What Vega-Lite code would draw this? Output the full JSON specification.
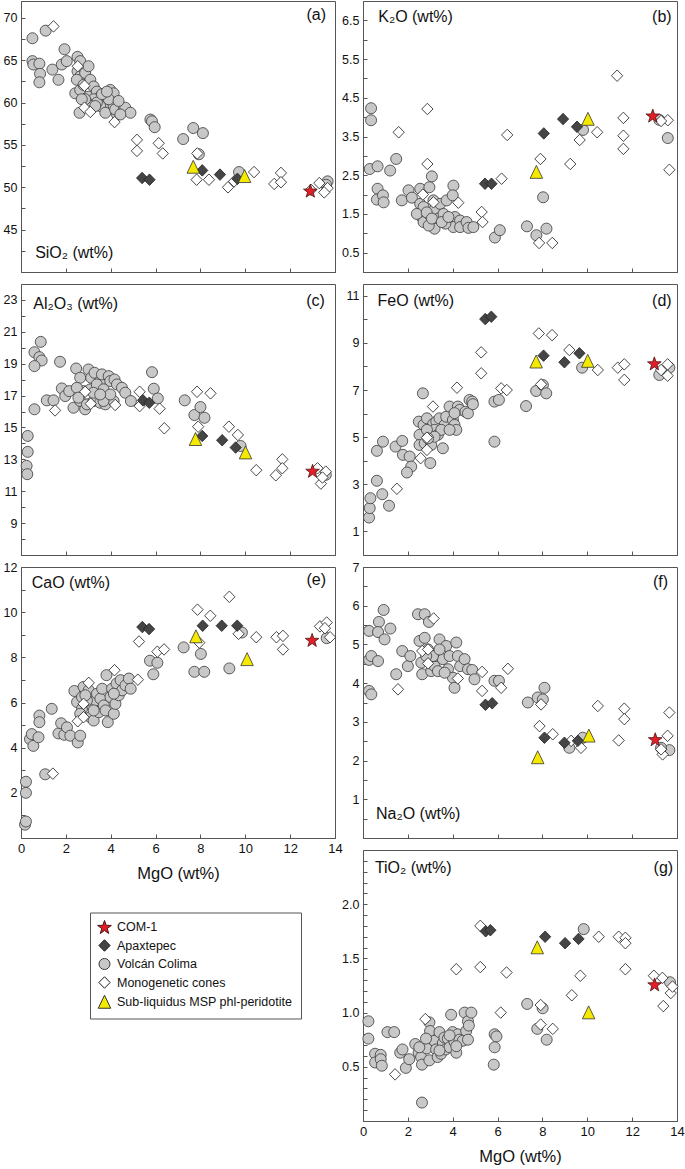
{
"$schema":"https://vega.github.io/schema/vega-lite/v6.json",
"padding":{"left":2,"top":0,"right":0,"bottom":0},
"background":"white",
"data":{"values":[
{"p":"a","g":"3","x":0.51,"y":67.6},{"p":"a","g":"3","x":1.10,"y":68.5},{"p":"a","g":"3","x":0.51,"y":64.9},{"p":"a","g":"3","x":0.55,"y":64.5},{"p":"a","g":"3","x":0.82,"y":64.6},{"p":"a","g":"3","x":0.85,"y":63.4},{"p":"a","g":"3","x":0.82,"y":62.4},{"p":"a","g":"3","x":1.40,"y":63.9},{"p":"a","g":"3","x":1.67,"y":62.7},{"p":"a","g":"3","x":1.82,"y":64.5},{"p":"a","g":"3","x":1.94,"y":66.3},{"p":"a","g":"3","x":2.04,"y":64.9},{"p":"a","g":"3","x":2.52,"y":65.4},{"p":"a","g":"3","x":2.64,"y":64.9},{"p":"a","g":"3","x":2.52,"y":63.7},{"p":"a","g":"3","x":2.64,"y":63.1},{"p":"a","g":"3","x":2.86,"y":63.5},{"p":"a","g":"3","x":3.01,"y":64.3},{"p":"a","g":"3","x":2.49,"y":62.7},{"p":"a","g":"3","x":2.42,"y":61.1},{"p":"a","g":"3","x":2.64,"y":61.5},{"p":"a","g":"3","x":2.79,"y":62.1},{"p":"a","g":"3","x":3.09,"y":62.7},{"p":"a","g":"3","x":3.01,"y":60.7},{"p":"a","g":"3","x":3.24,"y":61.9},{"p":"a","g":"3","x":3.38,"y":61.3},{"p":"a","g":"3","x":3.53,"y":60.7},{"p":"a","g":"3","x":3.24,"y":60.4},{"p":"a","g":"3","x":2.61,"y":58.8},{"p":"a","g":"3","x":2.94,"y":60.0},{"p":"a","g":"3","x":3.68,"y":60.4},{"p":"a","g":"3","x":3.83,"y":59.8},{"p":"a","g":"3","x":3.53,"y":59.6},{"p":"a","g":"3","x":3.76,"y":58.8},{"p":"a","g":"3","x":3.98,"y":61.5},{"p":"a","g":"3","x":4.06,"y":60.6},{"p":"a","g":"3","x":4.13,"y":61.1},{"p":"a","g":"3","x":4.20,"y":60.0},{"p":"a","g":"3","x":4.13,"y":59.6},{"p":"a","g":"3","x":4.28,"y":58.6},{"p":"a","g":"3","x":4.20,"y":59.2},{"p":"a","g":"3","x":4.58,"y":59.2},{"p":"a","g":"3","x":4.65,"y":59.4},{"p":"a","g":"3","x":4.88,"y":58.8},{"p":"a","g":"3","x":3.38,"y":60.0},{"p":"a","g":"3","x":3.09,"y":59.6},{"p":"a","g":"3","x":2.86,"y":60.4},{"p":"a","g":"3","x":3.31,"y":59.6},{"p":"a","g":"3","x":3.91,"y":60.4},{"p":"a","g":"3","x":2.71,"y":60.4},{"p":"a","g":"3","x":3.61,"y":61.0},{"p":"a","g":"3","x":3.83,"y":61.3},{"p":"a","g":"3","x":4.35,"y":60.2},{"p":"a","g":"3","x":4.43,"y":58.6},{"p":"a","g":"3","x":5.77,"y":58.0},{"p":"a","g":"3","x":5.84,"y":57.8},{"p":"a","g":"3","x":5.96,"y":57.1},{"p":"a","g":"3","x":7.23,"y":55.7},{"p":"a","g":"3","x":7.68,"y":57.0},{"p":"a","g":"3","x":8.11,"y":56.4},{"p":"a","g":"3","x":7.93,"y":53.9},{"p":"a","g":"3","x":9.72,"y":51.8},{"p":"a","g":"3","x":13.67,"y":50.7},{"p":"a","g":"3","x":13.6,"y":50.3},
{"p":"b","g":"3","x":0.36,"y":4.23},{"p":"b","g":"3","x":0.36,"y":3.92},{"p":"b","g":"3","x":0.30,"y":2.66},{"p":"b","g":"3","x":0.65,"y":2.73},{"p":"b","g":"3","x":1.21,"y":2.62},{"p":"b","g":"3","x":1.48,"y":2.92},{"p":"b","g":"3","x":0.65,"y":2.15},{"p":"b","g":"3","x":0.62,"y":1.87},{"p":"b","g":"3","x":0.89,"y":1.98},{"p":"b","g":"3","x":0.92,"y":1.80},{"p":"b","g":"3","x":1.73,"y":1.85},{"p":"b","g":"3","x":2.03,"y":2.11},{"p":"b","g":"3","x":2.18,"y":1.92},{"p":"b","g":"3","x":2.55,"y":2.15},{"p":"b","g":"3","x":2.96,"y":2.19},{"p":"b","g":"3","x":3.07,"y":2.47},{"p":"b","g":"3","x":2.55,"y":1.76},{"p":"b","g":"3","x":2.70,"y":1.68},{"p":"b","g":"3","x":2.62,"y":1.42},{"p":"b","g":"3","x":2.70,"y":1.29},{"p":"b","g":"3","x":2.93,"y":1.50},{"p":"b","g":"3","x":3.14,"y":1.85},{"p":"b","g":"3","x":3.21,"y":1.63},{"p":"b","g":"3","x":3.36,"y":1.38},{"p":"b","g":"3","x":3.19,"y":1.12},{"p":"b","g":"3","x":3.44,"y":1.76},{"p":"b","g":"3","x":3.59,"y":1.50},{"p":"b","g":"3","x":3.73,"y":1.85},{"p":"b","g":"3","x":4.03,"y":2.23},{"p":"b","g":"3","x":4.0,"y":1.98},{"p":"b","g":"3","x":4.10,"y":1.42},{"p":"b","g":"3","x":4.03,"y":1.16},{"p":"b","g":"3","x":4.33,"y":1.33},{"p":"b","g":"3","x":4.33,"y":1.16},{"p":"b","g":"3","x":4.62,"y":1.29},{"p":"b","g":"3","x":4.70,"y":1.14},{"p":"b","g":"3","x":4.92,"y":1.16},{"p":"b","g":"3","x":3.67,"y":1.25},{"p":"b","g":"3","x":2.93,"y":1.20},{"p":"b","g":"3","x":2.40,"y":1.50},{"p":"b","g":"3","x":2.84,"y":1.54},{"p":"b","g":"3","x":3.07,"y":1.38},{"p":"b","g":"3","x":3.51,"y":1.29},{"p":"b","g":"3","x":3.81,"y":1.42},{"p":"b","g":"3","x":5.88,"y":0.89},{"p":"b","g":"3","x":6.1,"y":1.08},{"p":"b","g":"3","x":7.31,"y":1.18},{"p":"b","g":"3","x":7.73,"y":0.95},{"p":"b","g":"3","x":8.18,"y":1.12},{"p":"b","g":"3","x":8.03,"y":1.93},{"p":"b","g":"3","x":9.81,"y":3.67},{"p":"b","g":"3","x":13.59,"y":3.46},{"p":"b","g":"3","x":13.21,"y":3.93},
{"p":"c","g":"3","x":0.3,"y":14.47},{"p":"c","g":"3","x":0.3,"y":13.47},{"p":"c","g":"3","x":0.25,"y":12.59},{"p":"c","g":"3","x":0.28,"y":12.07},{"p":"c","g":"3","x":0.6,"y":19.72},{"p":"c","g":"3","x":0.88,"y":20.37},{"p":"c","g":"3","x":0.82,"y":19.41},{"p":"c","g":"3","x":0.92,"y":19.2},{"p":"c","g":"3","x":0.6,"y":18.85},{"p":"c","g":"3","x":0.6,"y":16.14},{"p":"c","g":"3","x":1.15,"y":16.7},{"p":"c","g":"3","x":1.45,"y":16.7},{"p":"c","g":"3","x":1.74,"y":19.12},{"p":"c","g":"3","x":1.82,"y":17.45},{"p":"c","g":"3","x":1.97,"y":16.97},{"p":"c","g":"3","x":2.15,"y":17.28},{"p":"c","g":"3","x":2.46,"y":18.70},{"p":"c","g":"3","x":2.64,"y":18.12},{"p":"c","g":"3","x":3.01,"y":18.64},{"p":"c","g":"3","x":3.13,"y":18.12},{"p":"c","g":"3","x":3.28,"y":18.43},{"p":"c","g":"3","x":3.53,"y":17.91},{"p":"c","g":"3","x":3.61,"y":18.33},{"p":"c","g":"3","x":3.91,"y":18.22},{"p":"c","g":"3","x":3.98,"y":17.91},{"p":"c","g":"3","x":4.17,"y":18.01},{"p":"c","g":"3","x":4.28,"y":17.70},{"p":"c","g":"3","x":4.50,"y":17.49},{"p":"c","g":"3","x":4.65,"y":17.18},{"p":"c","g":"3","x":4.90,"y":16.66},{"p":"c","g":"3","x":2.34,"y":16.24},{"p":"c","g":"3","x":2.64,"y":16.66},{"p":"c","g":"3","x":2.86,"y":16.14},{"p":"c","g":"3","x":2.94,"y":16.45},{"p":"c","g":"3","x":3.23,"y":16.66},{"p":"c","g":"3","x":3.53,"y":16.55},{"p":"c","g":"3","x":3.76,"y":16.45},{"p":"c","g":"3","x":4.13,"y":16.66},{"p":"c","g":"3","x":3.68,"y":16.66},{"p":"c","g":"3","x":2.79,"y":17.28},{"p":"c","g":"3","x":3.09,"y":17.39},{"p":"c","g":"3","x":3.38,"y":17.70},{"p":"c","g":"3","x":3.68,"y":17.39},{"p":"c","g":"3","x":3.98,"y":17.07},{"p":"c","g":"3","x":3.23,"y":17.18},{"p":"c","g":"3","x":3.53,"y":17.07},{"p":"c","g":"3","x":2.49,"y":17.49},{"p":"c","g":"3","x":2.56,"y":16.87},{"p":"c","g":"3","x":5.84,"y":18.47},{"p":"c","g":"3","x":5.92,"y":17.43},{"p":"c","g":"3","x":6.10,"y":16.82},{"p":"c","g":"3","x":7.30,"y":16.70},{"p":"c","g":"3","x":7.73,"y":15.78},{"p":"c","g":"3","x":8.0,"y":16.28},{"p":"c","g":"3","x":8.18,"y":15.61},{"p":"c","g":"3","x":9.79,"y":13.84},{"p":"c","g":"3","x":13.59,"y":12.03},
{"p":"d","g":"3","x":0.27,"y":1.59},{"p":"d","g":"3","x":0.30,"y":1.99},{"p":"d","g":"3","x":0.33,"y":2.41},{"p":"d","g":"3","x":0.62,"y":3.15},{"p":"d","g":"3","x":0.86,"y":2.58},{"p":"d","g":"3","x":1.16,"y":2.09},{"p":"d","g":"3","x":0.62,"y":4.42},{"p":"d","g":"3","x":0.89,"y":4.81},{"p":"d","g":"3","x":1.45,"y":4.60},{"p":"d","g":"3","x":1.75,"y":4.84},{"p":"d","g":"3","x":1.78,"y":4.25},{"p":"d","g":"3","x":2.08,"y":4.18},{"p":"d","g":"3","x":2.15,"y":3.75},{"p":"d","g":"3","x":1.96,"y":3.50},{"p":"d","g":"3","x":2.67,"y":6.86},{"p":"d","g":"3","x":2.49,"y":5.66},{"p":"d","g":"3","x":2.70,"y":5.52},{"p":"d","g":"3","x":2.52,"y":5.10},{"p":"d","g":"3","x":2.52,"y":4.67},{"p":"d","g":"3","x":2.75,"y":4.74},{"p":"d","g":"3","x":2.85,"y":5.80},{"p":"d","g":"3","x":2.97,"y":5.24},{"p":"d","g":"3","x":3.04,"y":4.67},{"p":"d","g":"3","x":3.0,"y":3.90},{"p":"d","g":"3","x":3.12,"y":5.55},{"p":"d","g":"3","x":3.27,"y":5.66},{"p":"d","g":"3","x":3.19,"y":5.31},{"p":"d","g":"3","x":3.41,"y":5.80},{"p":"d","g":"3","x":3.34,"y":5.10},{"p":"d","g":"3","x":3.56,"y":4.53},{"p":"d","g":"3","x":3.64,"y":5.52},{"p":"d","g":"3","x":3.49,"y":5.31},{"p":"d","g":"3","x":3.71,"y":5.87},{"p":"d","g":"3","x":3.86,"y":6.30},{"p":"d","g":"3","x":4.01,"y":5.73},{"p":"d","g":"3","x":4.08,"y":5.52},{"p":"d","g":"3","x":4.16,"y":5.31},{"p":"d","g":"3","x":3.86,"y":5.31},{"p":"d","g":"3","x":4.23,"y":6.30},{"p":"d","g":"3","x":4.31,"y":6.16},{"p":"d","g":"3","x":4.08,"y":6.02},{"p":"d","g":"3","x":4.57,"y":6.08},{"p":"d","g":"3","x":4.68,"y":6.01},{"p":"d","g":"3","x":4.75,"y":6.58},{"p":"d","g":"3","x":4.87,"y":6.51},{"p":"d","g":"3","x":4.90,"y":6.40},{"p":"d","g":"3","x":2.85,"y":5.31},{"p":"d","g":"3","x":3.19,"y":5.02},{"p":"d","g":"3","x":2.9,"y":4.95},{"p":"d","g":"3","x":5.86,"y":6.51},{"p":"d","g":"3","x":6.06,"y":6.58},{"p":"d","g":"3","x":5.86,"y":4.81},{"p":"d","g":"3","x":7.27,"y":6.32},{"p":"d","g":"3","x":7.72,"y":6.96},{"p":"d","g":"3","x":8.02,"y":7.21},{"p":"d","g":"3","x":8.17,"y":6.86},{"p":"d","g":"3","x":9.77,"y":7.95},{"p":"d","g":"3","x":13.66,"y":7.95},{"p":"d","g":"3","x":13.21,"y":7.64},
{"p":"e","g":"3","x":0.18,"y":0.59},{"p":"e","g":"3","x":0.22,"y":0.73},{"p":"e","g":"3","x":0.22,"y":2.0},{"p":"e","g":"3","x":0.22,"y":2.49},{"p":"e","g":"3","x":0.40,"y":4.38},{"p":"e","g":"3","x":0.48,"y":4.60},{"p":"e","g":"3","x":0.55,"y":4.08},{"p":"e","g":"3","x":0.78,"y":4.46},{"p":"e","g":"3","x":0.82,"y":5.42},{"p":"e","g":"3","x":0.82,"y":5.13},{"p":"e","g":"3","x":1.08,"y":2.82},{"p":"e","g":"3","x":1.37,"y":5.72},{"p":"e","g":"3","x":1.67,"y":4.63},{"p":"e","g":"3","x":1.79,"y":5.08},{"p":"e","g":"3","x":1.93,"y":4.57},{"p":"e","g":"3","x":2.05,"y":4.90},{"p":"e","g":"3","x":2.20,"y":4.53},{"p":"e","g":"3","x":2.38,"y":6.51},{"p":"e","g":"3","x":2.50,"y":6.02},{"p":"e","g":"3","x":2.53,"y":4.23},{"p":"e","g":"3","x":2.64,"y":4.53},{"p":"e","g":"3","x":2.72,"y":5.72},{"p":"e","g":"3","x":2.79,"y":6.69},{"p":"e","g":"3","x":2.72,"y":6.24},{"p":"e","g":"3","x":3.02,"y":6.54},{"p":"e","g":"3","x":3.09,"y":5.35},{"p":"e","g":"3","x":3.17,"y":5.87},{"p":"e","g":"3","x":3.24,"y":5.20},{"p":"e","g":"3","x":3.32,"y":6.09},{"p":"e","g":"3","x":3.39,"y":6.39},{"p":"e","g":"3","x":3.47,"y":5.57},{"p":"e","g":"3","x":3.54,"y":6.17},{"p":"e","g":"3","x":3.62,"y":6.61},{"p":"e","g":"3","x":3.69,"y":5.87},{"p":"e","g":"3","x":3.77,"y":5.65},{"p":"e","g":"3","x":3.81,"y":7.21},{"p":"e","g":"3","x":3.87,"y":5.13},{"p":"e","g":"3","x":3.99,"y":6.24},{"p":"e","g":"3","x":4.06,"y":6.61},{"p":"e","g":"3","x":4.14,"y":5.50},{"p":"e","g":"3","x":4.26,"y":6.84},{"p":"e","g":"3","x":4.21,"y":5.94},{"p":"e","g":"3","x":4.36,"y":6.32},{"p":"e","g":"3","x":4.44,"y":6.99},{"p":"e","g":"3","x":4.51,"y":6.54},{"p":"e","g":"3","x":4.66,"y":6.76},{"p":"e","g":"3","x":4.81,"y":7.06},{"p":"e","g":"3","x":4.89,"y":6.61},{"p":"e","g":"3","x":4.14,"y":6.39},{"p":"e","g":"3","x":2.94,"y":6.09},{"p":"e","g":"3","x":3.24,"y":5.65},{"p":"e","g":"3","x":2.64,"y":5.50},{"p":"e","g":"3","x":2.87,"y":6.32},{"p":"e","g":"3","x":5.75,"y":7.85},{"p":"e","g":"3","x":5.90,"y":7.25},{"p":"e","g":"3","x":6.08,"y":7.76},{"p":"e","g":"3","x":7.25,"y":8.44},{"p":"e","g":"3","x":7.73,"y":7.36},{"p":"e","g":"3","x":8.02,"y":8.15},{"p":"e","g":"3","x":8.17,"y":7.36},{"p":"e","g":"3","x":9.29,"y":7.51},{"p":"e","g":"3","x":9.85,"y":9.10},{"p":"e","g":"3","x":13.63,"y":8.85},
{"p":"f","g":"3","x":0.27,"y":5.35},{"p":"f","g":"3","x":0.27,"y":4.60},{"p":"f","g":"3","x":0.37,"y":4.70},{"p":"f","g":"3","x":0.27,"y":3.80},{"p":"f","g":"3","x":0.37,"y":3.71},{"p":"f","g":"3","x":0.67,"y":4.57},{"p":"f","g":"3","x":0.71,"y":5.58},{"p":"f","g":"3","x":0.67,"y":5.32},{"p":"f","g":"3","x":0.92,"y":5.89},{"p":"f","g":"3","x":0.96,"y":5.13},{"p":"f","g":"3","x":1.22,"y":5.41},{"p":"f","g":"3","x":1.48,"y":4.23},{"p":"f","g":"3","x":1.75,"y":4.83},{"p":"f","g":"3","x":2.0,"y":4.44},{"p":"f","g":"3","x":2.11,"y":4.70},{"p":"f","g":"3","x":2.45,"y":5.78},{"p":"f","g":"3","x":2.75,"y":5.78},{"p":"f","g":"3","x":2.94,"y":5.58},{"p":"f","g":"3","x":2.52,"y":5.09},{"p":"f","g":"3","x":2.60,"y":4.53},{"p":"f","g":"3","x":2.64,"y":4.23},{"p":"f","g":"3","x":2.75,"y":5.17},{"p":"f","g":"3","x":2.90,"y":4.87},{"p":"f","g":"3","x":3.04,"y":4.31},{"p":"f","g":"3","x":3.19,"y":4.44},{"p":"f","g":"3","x":3.27,"y":4.70},{"p":"f","g":"3","x":3.34,"y":4.31},{"p":"f","g":"3","x":3.41,"y":5.13},{"p":"f","g":"3","x":3.56,"y":4.62},{"p":"f","g":"3","x":3.71,"y":4.96},{"p":"f","g":"3","x":3.86,"y":4.70},{"p":"f","g":"3","x":3.79,"y":4.36},{"p":"f","g":"3","x":4.01,"y":4.14},{"p":"f","g":"3","x":4.08,"y":3.88},{"p":"f","g":"3","x":4.16,"y":5.05},{"p":"f","g":"3","x":4.23,"y":4.70},{"p":"f","g":"3","x":4.33,"y":4.44},{"p":"f","g":"3","x":4.53,"y":4.62},{"p":"f","g":"3","x":4.68,"y":4.36},{"p":"f","g":"3","x":4.87,"y":4.34},{"p":"f","g":"3","x":4.97,"y":4.10},{"p":"f","g":"3","x":3.12,"y":4.70},{"p":"f","g":"3","x":3.41,"y":4.87},{"p":"f","g":"3","x":2.82,"y":4.70},{"p":"f","g":"3","x":3.64,"y":4.27},{"p":"f","g":"3","x":5.86,"y":4.06},{"p":"f","g":"3","x":6.06,"y":4.06},{"p":"f","g":"3","x":7.35,"y":3.50},{"p":"f","g":"3","x":7.79,"y":3.63},{"p":"f","g":"3","x":8.09,"y":3.88},{"p":"f","g":"3","x":8.02,"y":3.58},{"p":"f","g":"3","x":9.20,"y":2.33},{"p":"f","g":"3","x":9.80,"y":2.59},{"p":"f","g":"3","x":13.66,"y":2.27},{"p":"f","g":"3","x":13.29,"y":2.33},
{"p":"g","g":"3","x":0.24,"y":0.92},{"p":"g","g":"3","x":0.24,"y":0.76},{"p":"g","g":"3","x":0.54,"y":0.62},{"p":"g","g":"3","x":0.54,"y":0.54},{"p":"g","g":"3","x":0.79,"y":0.61},{"p":"g","g":"3","x":0.79,"y":0.57},{"p":"g","g":"3","x":0.84,"y":0.51},{"p":"g","g":"3","x":1.09,"y":0.82},{"p":"g","g":"3","x":1.39,"y":0.82},{"p":"g","g":"3","x":1.66,"y":0.63},{"p":"g","g":"3","x":1.76,"y":0.66},{"p":"g","g":"3","x":1.91,"y":0.49},{"p":"g","g":"3","x":2.06,"y":0.57},{"p":"g","g":"3","x":2.33,"y":0.71},{"p":"g","g":"3","x":2.48,"y":0.63},{"p":"g","g":"3","x":2.59,"y":0.59},{"p":"g","g":"3","x":2.63,"y":0.52},{"p":"g","g":"3","x":2.63,"y":0.17},{"p":"g","g":"3","x":2.84,"y":0.67},{"p":"g","g":"3","x":2.96,"y":0.91},{"p":"g","g":"3","x":2.99,"y":0.83},{"p":"g","g":"3","x":2.96,"y":0.56},{"p":"g","g":"3","x":3.18,"y":0.74},{"p":"g","g":"3","x":3.26,"y":0.66},{"p":"g","g":"3","x":3.33,"y":0.59},{"p":"g","g":"3","x":3.41,"y":0.82},{"p":"g","g":"3","x":3.48,"y":0.62},{"p":"g","g":"3","x":3.56,"y":0.72},{"p":"g","g":"3","x":3.63,"y":0.77},{"p":"g","g":"3","x":3.68,"y":0.66},{"p":"g","g":"3","x":3.78,"y":0.76},{"p":"g","g":"3","x":3.86,"y":0.68},{"p":"g","g":"3","x":3.93,"y":0.98},{"p":"g","g":"3","x":4.0,"y":0.82},{"p":"g","g":"3","x":4.08,"y":0.73},{"p":"g","g":"3","x":4.16,"y":0.63},{"p":"g","g":"3","x":4.23,"y":0.80},{"p":"g","g":"3","x":4.30,"y":0.75},{"p":"g","g":"3","x":4.45,"y":0.74},{"p":"g","g":"3","x":4.53,"y":1.0},{"p":"g","g":"3","x":4.60,"y":0.83},{"p":"g","g":"3","x":4.68,"y":0.92},{"p":"g","g":"3","x":4.83,"y":1.0},{"p":"g","g":"3","x":4.72,"y":0.88},{"p":"g","g":"3","x":4.68,"y":0.75},{"p":"g","g":"3","x":2.51,"y":0.68},{"p":"g","g":"3","x":2.81,"y":0.76},{"p":"g","g":"3","x":3.41,"y":0.65},{"p":"g","g":"3","x":3.86,"y":0.79},{"p":"g","g":"3","x":4.16,"y":0.69},{"p":"g","g":"3","x":5.87,"y":0.80},{"p":"g","g":"3","x":5.95,"y":0.78},{"p":"g","g":"3","x":5.87,"y":0.68},{"p":"g","g":"3","x":5.83,"y":0.52},{"p":"g","g":"3","x":7.32,"y":1.08},{"p":"g","g":"3","x":7.77,"y":0.85},{"p":"g","g":"3","x":8.01,"y":1.04},{"p":"g","g":"3","x":8.19,"y":0.75},{"p":"g","g":"3","x":9.84,"y":1.77},{"p":"g","g":"3","x":13.69,"y":1.28},
{"p":"a","g":"4","x":1.45,"y":69.0},{"p":"a","g":"4","x":2.53,"y":64.3},{"p":"a","g":"4","x":2.83,"y":62.0},{"p":"a","g":"4","x":2.83,"y":59.4},{"p":"a","g":"4","x":3.09,"y":58.9},{"p":"a","g":"4","x":4.17,"y":57.7},{"p":"a","g":"4","x":5.17,"y":55.6},{"p":"a","g":"4","x":5.17,"y":54.3},{"p":"a","g":"4","x":6.14,"y":55.2},{"p":"a","g":"4","x":6.32,"y":54.0},{"p":"a","g":"4","x":7.86,"y":54.0},{"p":"a","g":"4","x":7.83,"y":50.9},{"p":"a","g":"4","x":8.38,"y":50.9},{"p":"a","g":"4","x":9.23,"y":50.0},{"p":"a","g":"4","x":9.5,"y":50.7},{"p":"a","g":"4","x":10.39,"y":51.8},{"p":"a","g":"4","x":11.29,"y":50.4},{"p":"a","g":"4","x":11.59,"y":51.7},{"p":"a","g":"4","x":11.59,"y":50.6},{"p":"a","g":"4","x":13.3,"y":50.5},{"p":"a","g":"4","x":13.67,"y":49.9},{"p":"a","g":"4","x":13.52,"y":49.4},{"p":"a","g":"4","x":12.93,"y":49.7},
{"p":"b","g":"4","x":1.59,"y":3.61},{"p":"b","g":"4","x":2.87,"y":4.21},{"p":"b","g":"4","x":2.87,"y":2.79},{"p":"b","g":"4","x":2.67,"y":2.0},{"p":"b","g":"4","x":3.14,"y":1.80},{"p":"b","g":"4","x":4.25,"y":1.79},{"p":"b","g":"4","x":5.29,"y":1.55},{"p":"b","g":"4","x":5.33,"y":1.29},{"p":"b","g":"4","x":6.18,"y":2.41},{"p":"b","g":"4","x":6.43,"y":3.54},{"p":"b","g":"4","x":7.91,"y":2.92},{"p":"b","g":"4","x":7.85,"y":0.75},{"p":"b","g":"4","x":8.44,"y":0.75},{"p":"b","g":"4","x":9.24,"y":2.79},{"p":"b","g":"4","x":9.66,"y":3.41},{"p":"b","g":"4","x":10.44,"y":3.61},{"p":"b","g":"4","x":11.33,"y":5.07},{"p":"b","g":"4","x":11.61,"y":3.98},{"p":"b","g":"4","x":11.61,"y":3.52},{"p":"b","g":"4","x":11.61,"y":3.18},{"p":"b","g":"4","x":13.59,"y":3.92},{"p":"b","g":"4","x":13.66,"y":2.64},{"p":"b","g":"4","x":13.29,"y":3.9},
{"p":"c","g":"4","x":1.52,"y":16.07},{"p":"c","g":"4","x":2.86,"y":17.24},{"p":"c","g":"4","x":3.11,"y":16.49},{"p":"c","g":"4","x":4.20,"y":16.41},{"p":"c","g":"4","x":5.29,"y":17.24},{"p":"c","g":"4","x":5.29,"y":16.34},{"p":"c","g":"4","x":6.18,"y":16.18},{"p":"c","g":"4","x":6.39,"y":14.95},{"p":"c","g":"4","x":7.85,"y":17.24},{"p":"c","g":"4","x":8.45,"y":17.14},{"p":"c","g":"4","x":7.9,"y":15.05},{"p":"c","g":"4","x":9.27,"y":15.05},{"p":"c","g":"4","x":9.67,"y":14.53},{"p":"c","g":"4","x":10.49,"y":12.32},{"p":"c","g":"4","x":11.36,"y":12.0},{"p":"c","g":"4","x":11.65,"y":13.0},{"p":"c","g":"4","x":11.65,"y":12.44},{"p":"c","g":"4","x":13.22,"y":12.44},{"p":"c","g":"4","x":13.37,"y":11.48},{"p":"c","g":"4","x":13.59,"y":12.23},{"p":"c","g":"4","x":13.44,"y":11.86},
{"p":"d","g":"4","x":1.51,"y":2.81},{"p":"d","g":"4","x":2.57,"y":4.11},{"p":"d","g":"4","x":2.85,"y":4.98},{"p":"d","g":"4","x":2.85,"y":4.46},{"p":"d","g":"4","x":3.12,"y":6.30},{"p":"d","g":"4","x":4.19,"y":7.10},{"p":"d","g":"4","x":5.27,"y":8.60},{"p":"d","g":"4","x":5.27,"y":7.71},{"p":"d","g":"4","x":6.16,"y":7.07},{"p":"d","g":"4","x":6.41,"y":7.0},{"p":"d","g":"4","x":7.84,"y":9.40},{"p":"d","g":"4","x":8.43,"y":9.33},{"p":"d","g":"4","x":7.94,"y":7.24},{"p":"d","g":"4","x":9.20,"y":8.70},{"p":"d","g":"4","x":10.47,"y":7.85},{"p":"d","g":"4","x":11.36,"y":7.95},{"p":"d","g":"4","x":11.65,"y":8.09},{"p":"d","g":"4","x":11.65,"y":7.43},{"p":"d","g":"4","x":13.58,"y":8.09},{"p":"d","g":"4","x":13.58,"y":7.61},{"p":"d","g":"4","x":13.29,"y":7.85},
{"p":"e","g":"4","x":1.42,"y":2.85},{"p":"e","g":"4","x":2.53,"y":5.17},{"p":"e","g":"4","x":2.79,"y":5.94},{"p":"e","g":"4","x":2.79,"y":5.35},{"p":"e","g":"4","x":3.02,"y":6.87},{"p":"e","g":"4","x":4.17,"y":7.43},{"p":"e","g":"4","x":5.21,"y":7.01},{"p":"e","g":"4","x":5.26,"y":8.70},{"p":"e","g":"4","x":6.08,"y":8.25},{"p":"e","g":"4","x":6.38,"y":8.35},{"p":"e","g":"4","x":7.87,"y":10.11},{"p":"e","g":"4","x":8.44,"y":9.84},{"p":"e","g":"4","x":7.95,"y":8.65},{"p":"e","g":"4","x":9.29,"y":10.68},{"p":"e","g":"4","x":9.70,"y":9.04},{"p":"e","g":"4","x":10.49,"y":8.89},{"p":"e","g":"4","x":11.39,"y":8.89},{"p":"e","g":"4","x":11.68,"y":8.95},{"p":"e","g":"4","x":11.68,"y":8.35},{"p":"e","g":"4","x":13.33,"y":9.37},{"p":"e","g":"4","x":13.63,"y":9.54},{"p":"e","g":"4","x":13.78,"y":8.89},{"p":"e","g":"4","x":13.55,"y":9.29},
{"p":"f","g":"4","x":1.56,"y":3.84},{"p":"f","g":"4","x":2.64,"y":4.83},{"p":"f","g":"4","x":2.90,"y":4.87},{"p":"f","g":"4","x":2.90,"y":4.51},{"p":"f","g":"4","x":3.15,"y":5.67},{"p":"f","g":"4","x":4.23,"y":4.12},{"p":"f","g":"4","x":5.31,"y":4.29},{"p":"f","g":"4","x":5.31,"y":3.80},{"p":"f","g":"4","x":6.16,"y":3.88},{"p":"f","g":"4","x":6.46,"y":4.37},{"p":"f","g":"4","x":7.94,"y":3.45},{"p":"f","g":"4","x":7.87,"y":2.89},{"p":"f","g":"4","x":8.46,"y":2.68},{"p":"f","g":"4","x":9.28,"y":2.51},{"p":"f","g":"4","x":9.72,"y":2.33},{"p":"f","g":"4","x":10.47,"y":3.41},{"p":"f","g":"4","x":11.40,"y":2.52},{"p":"f","g":"4","x":11.65,"y":3.34},{"p":"f","g":"4","x":11.65,"y":3.07},{"p":"f","g":"4","x":13.58,"y":2.64},{"p":"f","g":"4","x":13.66,"y":3.24},{"p":"f","g":"4","x":13.36,"y":2.16},{"p":"f","g":"4","x":13.29,"y":2.29},
{"p":"g","g":"4","x":1.43,"y":0.43},{"p":"g","g":"4","x":2.78,"y":0.94},{"p":"g","g":"4","x":4.16,"y":1.40},{"p":"g","g":"4","x":5.23,"y":1.42},{"p":"g","g":"4","x":5.23,"y":1.80},{"p":"g","g":"4","x":6.40,"y":1.37},{"p":"g","g":"4","x":6.14,"y":1.0},{"p":"g","g":"4","x":7.92,"y":1.07},{"p":"g","g":"4","x":7.92,"y":0.89},{"p":"g","g":"4","x":8.46,"y":0.85},{"p":"g","g":"4","x":9.31,"y":1.16},{"p":"g","g":"4","x":9.69,"y":1.34},{"p":"g","g":"4","x":10.51,"y":1.70},{"p":"g","g":"4","x":11.40,"y":1.70},{"p":"g","g":"4","x":11.70,"y":1.69},{"p":"g","g":"4","x":11.70,"y":1.64},{"p":"g","g":"4","x":11.70,"y":1.40},{"p":"g","g":"4","x":12.97,"y":1.34},{"p":"g","g":"4","x":13.35,"y":1.32},{"p":"g","g":"4","x":13.39,"y":1.06},{"p":"g","g":"4","x":13.72,"y":1.18},{"p":"g","g":"4","x":13.8,"y":1.24},
{"p":"a","g":"2","x":5.40,"y":51.1},{"p":"a","g":"2","x":5.73,"y":50.9},{"p":"a","g":"2","x":8.08,"y":52.0},{"p":"a","g":"2","x":8.87,"y":51.5},{"p":"a","g":"2","x":9.65,"y":51.0},
{"p":"b","g":"2","x":5.44,"y":2.28},{"p":"b","g":"2","x":5.73,"y":2.28},{"p":"b","g":"2","x":8.06,"y":3.58},{"p":"b","g":"2","x":8.92,"y":3.95},{"p":"b","g":"2","x":9.54,"y":3.75},
{"p":"c","g":"2","x":5.44,"y":16.70},{"p":"c","g":"2","x":5.72,"y":16.55},{"p":"c","g":"2","x":8.08,"y":14.47},{"p":"c","g":"2","x":8.97,"y":14.20},{"p":"c","g":"2","x":9.57,"y":13.74},
{"p":"d","g":"2","x":5.45,"y":10.01},{"p":"d","g":"2","x":5.72,"y":10.11},{"p":"d","g":"2","x":8.05,"y":8.46},{"p":"d","g":"2","x":8.98,"y":8.18},{"p":"d","g":"2","x":9.65,"y":8.56},
{"p":"e","g":"2","x":5.41,"y":9.34},{"p":"e","g":"2","x":5.71,"y":9.25},{"p":"e","g":"2","x":8.10,"y":9.40},{"p":"e","g":"2","x":8.95,"y":9.40},{"p":"e","g":"2","x":9.64,"y":9.40},
{"p":"f","g":"2","x":5.46,"y":3.44},{"p":"f","g":"2","x":5.76,"y":3.48},{"p":"f","g":"2","x":8.09,"y":2.59},{"p":"f","g":"2","x":8.98,"y":2.46},{"p":"f","g":"2","x":9.58,"y":2.51},
{"p":"g","g":"2","x":5.47,"y":1.75},{"p":"g","g":"2","x":5.68,"y":1.76},{"p":"g","g":"2","x":8.12,"y":1.70},{"p":"g","g":"2","x":9.01,"y":1.64},{"p":"g","g":"2","x":9.61,"y":1.68},
{"p":"a","g":"5","x":7.68,"y":52.4},{"p":"a","g":"5","x":9.97,"y":51.3},
{"p":"b","g":"5","x":7.73,"y":2.58},{"p":"b","g":"5","x":10.03,"y":3.95},
{"p":"c","g":"5","x":7.78,"y":14.26},{"p":"c","g":"5","x":10.01,"y":13.42},
{"p":"d","g":"5","x":7.72,"y":8.20},{"p":"d","g":"5","x":10.02,"y":8.23},
{"p":"e","g":"5","x":7.80,"y":8.92},{"p":"e","g":"5","x":10.08,"y":7.91},
{"p":"f","g":"5","x":7.79,"y":2.08},{"p":"f","g":"5","x":10.07,"y":2.64},
{"p":"g","g":"5","x":7.77,"y":1.60},{"p":"g","g":"5","x":10.06,"y":1.0},
{"p":"a","g":"1","x":12.9,"y":49.6},{"p":"b","g":"1","x":12.92,"y":4.04},{"p":"c","g":"1","x":13.0,"y":12.28},{"p":"d","g":"1","x":12.99,"y":8.13},{"p":"e","g":"1","x":12.98,"y":8.77},{"p":"f","g":"1","x":13.03,"y":2.55},{"p":"g","g":"1","x":13.0,"y":1.26}
]},
"columns":2,
"spacing":{"row":12,"column":28},
"bounds":"flush",
"resolve":{"scale":{"x":"independent","y":"independent"},"axis":{"x":"independent","y":"independent"}},
"concat":[
{"width":314,"height":271,"resolve":{"axis":{"y":"independent"}},"layer":[
 {"transform":[{"filter":"datum.p=='a'"}],"mark":{"type":"point","filled":true,"opacity":1,"size":144,"strokeWidth":0.8},
  "encoding":{
   "x":{"field":"x","type":"quantitative","scale":{"domain":[0,14],"nice":false,"zero":false},"axis":{"title":null,"labels":false,"values":[0,1,2,3,4,5,6,7,8,9,10,11,12,13,14]}},
   "y":{"field":"y","type":"quantitative","scale":{"domain":[40,72],"nice":false,"zero":false},"axis":{"title":null,"orient":"left","format":".0f","values":[45,50,55,60,65,70]}},
   "shape":{"field":"g","type":"nominal","title":null,"legend":{"orient":"none","legendX":69,"legendY":911.5,"labelExpr":"datum.label=='1'?'COM-1':datum.label=='2'?'Apaxtepec':datum.label=='3'?'Volcán Colima':datum.label=='4'?'Monogenetic cones':'Sub-liquidus MSP phl-peridotite'"}},
   "fill":{"field":"g","type":"nominal","title":null,"legend":{"orient":"none","legendX":69,"legendY":911.5,"labelExpr":"datum.label=='1'?'COM-1':datum.label=='2'?'Apaxtepec':datum.label=='3'?'Volcán Colima':datum.label=='4'?'Monogenetic cones':'Sub-liquidus MSP phl-peridotite'"}},
   "stroke":{"field":"g","type":"nominal","title":null,"scale":{"range":["#4a1515","#222222","#3a3a3a","#1a1a1a","#333333"]},"legend":{"orient":"none","legendX":69,"legendY":911.5,"labelExpr":"datum.label=='1'?'COM-1':datum.label=='2'?'Apaxtepec':datum.label=='3'?'Volcán Colima':datum.label=='4'?'Monogenetic cones':'Sub-liquidus MSP phl-peridotite'"}}
  }},
 {"data":{"values":[{}]},"mark":{"type":"text","align":"left","baseline":"middle","fontSize":16},"encoding":{"x":{"datum":0.63},"y":{"datum":42.2,"axis":{"title":null,"orient":"left","labels":false,"domain":false,"values":[42.5,47.5,52.5,57.5,62.5,67.5]}},"text":{"value":"SiO₂ (wt%)"}}},
 {"data":{"values":[{}]},"mark":{"type":"text","align":"right","baseline":"middle","fontSize":16},"encoding":{"x":{"datum":13.6},"y":{"datum":70.35,"axis":null},"text":{"value":"(a)"}}}
]},
{"width":314,"height":271,"resolve":{"axis":{"y":"independent"}},"layer":[
 {"transform":[{"filter":"datum.p=='b'"}],"mark":{"type":"point","filled":true,"opacity":1,"size":144,"strokeWidth":0.8},
  "encoding":{
   "x":{"field":"x","type":"quantitative","scale":{"domain":[0,14],"nice":false,"zero":false},"axis":{"title":null,"labels":false,"values":[0,1,2,3,4,5,6,7,8,9,10,11,12,13,14]}},
   "y":{"field":"y","type":"quantitative","scale":{"domain":[0,7],"nice":false,"zero":false},"axis":{"title":null,"orient":"left","format":".1f","values":[0.5,1.5,2.5,3.5,4.5,5.5,6.5]}},
   "shape":{"field":"g","type":"nominal","title":null},
   "fill":{"field":"g","type":"nominal","title":null},
   "stroke":{"field":"g","type":"nominal","title":null,"scale":{"range":["#4a1515","#222222","#3a3a3a","#1a1a1a","#333333"]}}
  }},
 {"data":{"values":[{}]},"mark":{"type":"text","align":"left","baseline":"middle","fontSize":16},"encoding":{"x":{"datum":0.68},"y":{"datum":6.59,"axis":{"title":null,"orient":"left","labels":false,"domain":false,"values":[1,2,3,4,5,6]}},"text":{"value":"K₂O (wt%)"}}},
 {"data":{"values":[{}]},"mark":{"type":"text","align":"right","baseline":"middle","fontSize":16},"encoding":{"x":{"datum":13.76},"y":{"datum":6.59,"axis":null},"text":{"value":"(b)"}}}
]},
{"width":314,"height":271,"resolve":{"axis":{"y":"independent"}},"layer":[
 {"transform":[{"filter":"datum.p=='c'"}],"mark":{"type":"point","filled":true,"opacity":1,"size":144,"strokeWidth":0.8},
  "encoding":{
   "x":{"field":"x","type":"quantitative","scale":{"domain":[0,14],"nice":false,"zero":false},"axis":{"title":null,"labels":false,"values":[0,1,2,3,4,5,6,7,8,9,10,11,12,13,14]}},
   "y":{"field":"y","type":"quantitative","scale":{"domain":[7,24],"nice":false,"zero":false},"axis":{"title":null,"orient":"left","values":[9,11,13,15,17,19,21,23]}},
   "shape":{"field":"g","type":"nominal","title":null},
   "fill":{"field":"g","type":"nominal","title":null},
   "stroke":{"field":"g","type":"nominal","title":null,"scale":{"range":["#4a1515","#222222","#3a3a3a","#1a1a1a","#333333"]}}
  }},
 {"data":{"values":[{}]},"mark":{"type":"text","align":"left","baseline":"middle","fontSize":16},"encoding":{"x":{"datum":0.55},"y":{"datum":22.77,"axis":{"title":null,"orient":"left","labels":false,"domain":false,"values":[8,10,12,14,16,18,20,22]}},"text":{"value":"Al₂O₃ (wt%)"}}},
 {"data":{"values":[{}]},"mark":{"type":"text","align":"right","baseline":"middle","fontSize":16},"encoding":{"x":{"datum":13.55},"y":{"datum":22.94,"axis":null},"text":{"value":"(c)"}}}
]},
{"width":314,"height":271,"resolve":{"axis":{"y":"independent"}},"layer":[
 {"transform":[{"filter":"datum.p=='d'"}],"mark":{"type":"point","filled":true,"opacity":1,"size":144,"strokeWidth":0.8},
  "encoding":{
   "x":{"field":"x","type":"quantitative","scale":{"domain":[0,14],"nice":false,"zero":false},"axis":{"title":null,"labels":false,"values":[0,1,2,3,4,5,6,7,8,9,10,11,12,13,14]}},
   "y":{"field":"y","type":"quantitative","scale":{"domain":[0,11.5],"nice":false,"zero":false},"axis":{"title":null,"orient":"left","values":[1,3,5,7,9,11]}},
   "shape":{"field":"g","type":"nominal","title":null},
   "fill":{"field":"g","type":"nominal","title":null},
   "stroke":{"field":"g","type":"nominal","title":null,"scale":{"range":["#4a1515","#222222","#3a3a3a","#1a1a1a","#333333"]}}
  }},
 {"data":{"values":[{}]},"mark":{"type":"text","align":"left","baseline":"middle","fontSize":16},"encoding":{"x":{"datum":0.65},"y":{"datum":10.76,"axis":{"title":null,"orient":"left","labels":false,"domain":false,"values":[2,4,6,8,10]}},"text":{"value":"FeO (wt%)"}}},
 {"data":{"values":[{}]},"mark":{"type":"text","align":"right","baseline":"middle","fontSize":16},"encoding":{"x":{"datum":13.76},"y":{"datum":10.76,"axis":null},"text":{"value":"(d)"}}}
]},
{"width":314,"height":271,"resolve":{"axis":{"y":"independent"}},"layer":[
 {"transform":[{"filter":"datum.p=='e'"}],"mark":{"type":"point","filled":true,"opacity":1,"size":144,"strokeWidth":0.8},
  "encoding":{
   "x":{"field":"x","type":"quantitative","scale":{"domain":[0,14],"nice":false,"zero":false},"axis":{"title":"MgO (wt%)","titlePadding":10,"labelFontSize":13,"values":[0,1,2,3,4,5,6,7,8,9,10,11,12,13,14],"labelExpr":"datum.value%2==0?datum.label:''"}},
   "y":{"field":"y","type":"quantitative","scale":{"domain":[0,12],"nice":false,"zero":false},"axis":{"title":null,"orient":"left","values":[2,4,6,8,10,12]}},
   "shape":{"field":"g","type":"nominal","title":null},
   "fill":{"field":"g","type":"nominal","title":null},
   "stroke":{"field":"g","type":"nominal","title":null,"scale":{"range":["#4a1515","#222222","#3a3a3a","#1a1a1a","#333333"]}}
  }},
 {"data":{"values":[{}]},"mark":{"type":"text","align":"left","baseline":"middle","fontSize":16},"encoding":{"x":{"datum":0.48},"y":{"datum":11.27,"axis":{"title":null,"orient":"left","labels":false,"domain":false,"values":[1,3,5,7,9,11]}},"text":{"value":"CaO (wt%)"}}},
 {"data":{"values":[{}]},"mark":{"type":"text","align":"right","baseline":"middle","fontSize":16},"encoding":{"x":{"datum":13.6},"y":{"datum":11.42,"axis":null},"text":{"value":"(e)"}}}
]},
{"width":314,"height":271,"resolve":{"axis":{"y":"independent"}},"layer":[
 {"transform":[{"filter":"datum.p=='f'"}],"mark":{"type":"point","filled":true,"opacity":1,"size":144,"strokeWidth":0.8},
  "encoding":{
   "x":{"field":"x","type":"quantitative","scale":{"domain":[0,14],"nice":false,"zero":false},"axis":{"title":null,"labels":false,"values":[0,1,2,3,4,5,6,7,8,9,10,11,12,13,14]}},
   "y":{"field":"y","type":"quantitative","scale":{"domain":[0,7],"nice":false,"zero":false},"axis":{"title":null,"orient":"left","format":".0f","values":[1,2,3,4,5,6,7]}},
   "shape":{"field":"g","type":"nominal","title":null},
   "fill":{"field":"g","type":"nominal","title":null},
   "stroke":{"field":"g","type":"nominal","title":null,"scale":{"range":["#4a1515","#222222","#3a3a3a","#1a1a1a","#333333"]}}
  }},
 {"data":{"values":[{}]},"mark":{"type":"text","align":"left","baseline":"middle","fontSize":16},"encoding":{"x":{"datum":0.58},"y":{"datum":0.62,"axis":{"title":null,"orient":"left","labels":false,"domain":false,"values":[0.5,1.5,2.5,3.5,4.5,5.5,6.5]}},"text":{"value":"Na₂O (wt%)"}}},
 {"data":{"values":[{}]},"mark":{"type":"text","align":"right","baseline":"middle","fontSize":16},"encoding":{"x":{"datum":13.6},"y":{"datum":6.62,"axis":null},"text":{"value":"(f)"}}}
]},
{"width":314,"height":271,"data":{"values":[]},"mark":"point","view":{"stroke":null}},
{"width":314,"height":271,"resolve":{"axis":{"y":"independent"}},"layer":[
 {"transform":[{"filter":"datum.p=='g'"}],"mark":{"type":"point","filled":true,"opacity":1,"size":144,"strokeWidth":0.8},
  "encoding":{
   "x":{"field":"x","type":"quantitative","scale":{"domain":[0,14],"nice":false,"zero":false},"axis":{"title":"MgO (wt%)","titlePadding":10,"labelFontSize":13,"values":[0,1,2,3,4,5,6,7,8,9,10,11,12,13,14],"labelExpr":"datum.value%2==0?datum.label:''"}},
   "y":{"field":"y","type":"quantitative","scale":{"domain":[0,2.5],"nice":false,"zero":false},"axis":{"title":null,"orient":"left","format":".1f","values":[0.5,1.0,1.5,2.0]}},
   "shape":{"field":"g","type":"nominal","title":null},
   "fill":{"field":"g","type":"nominal","title":null},
   "stroke":{"field":"g","type":"nominal","title":null,"scale":{"range":["#4a1515","#222222","#3a3a3a","#1a1a1a","#333333"]}}
  }},
 {"data":{"values":[{}]},"mark":{"type":"text","align":"left","baseline":"middle","fontSize":16},"encoding":{"x":{"datum":0.53},"y":{"datum":2.33,"axis":{"title":null,"orient":"left","labels":false,"domain":false,"values":[0.1,0.2,0.3,0.4,0.6,0.7,0.8,0.9,1.1,1.2,1.3,1.4,1.6,1.7,1.8,1.9,2.1,2.2,2.3,2.4]}},"text":{"value":"TiO₂ (wt%)"}}},
 {"data":{"values":[{}]},"mark":{"type":"text","align":"right","baseline":"middle","fontSize":16},"encoding":{"x":{"datum":13.83},"y":{"datum":2.33,"axis":null},"text":{"value":"(g)"}}}
]}
],
"config":{
 "font":"Liberation Sans",
 "view":{"stroke":"#555","strokeWidth":1},
 "range":{
  "category":["#e31e26","#454545","#c8c8c8","#ffffff","#f5e900"],
  "symbol":["M0,-1.09L0.282,-0.278L1.141,-0.261L0.456,0.258L0.705,1.081L0,0.59L-0.705,1.081L-0.456,0.258L-1.141,-0.261L-0.282,-0.278Z","M0,-0.96L0.94,0L0,0.96L-0.94,0Z","M0.92,0A0.92,0.92,0,1,1,-0.92,0A0.92,0.92,0,1,1,0.92,0Z","M0,-0.96L0.94,0L0,0.96L-0.94,0Z","M0,-1.12L1.04,1.04L-1.04,1.04Z"]
 },
 "axis":{"grid":false,"domainColor":"#555","tickColor":"#555","labelColor":"#111","labelFontSize":12.5,"tickSize":-4,"labelPadding":8,"labelFlush":false,"labelOverlap":false,"titleFontSize":16.5,"titleFontWeight":"normal","titleColor":"#111"},
 "legend":{"padding":8,"rowPadding":1.5,"labelFontSize":12.5,"labelOffset":6,"strokeColor":"#555","fillColor":"#ffffff","symbolStrokeWidth":1,"symbolOpacity":1,"symbolSize":144,"labelColor":"#111","labelLimit":300},
 "text":{"color":"#111","font":"Liberation Sans"}
}
}
